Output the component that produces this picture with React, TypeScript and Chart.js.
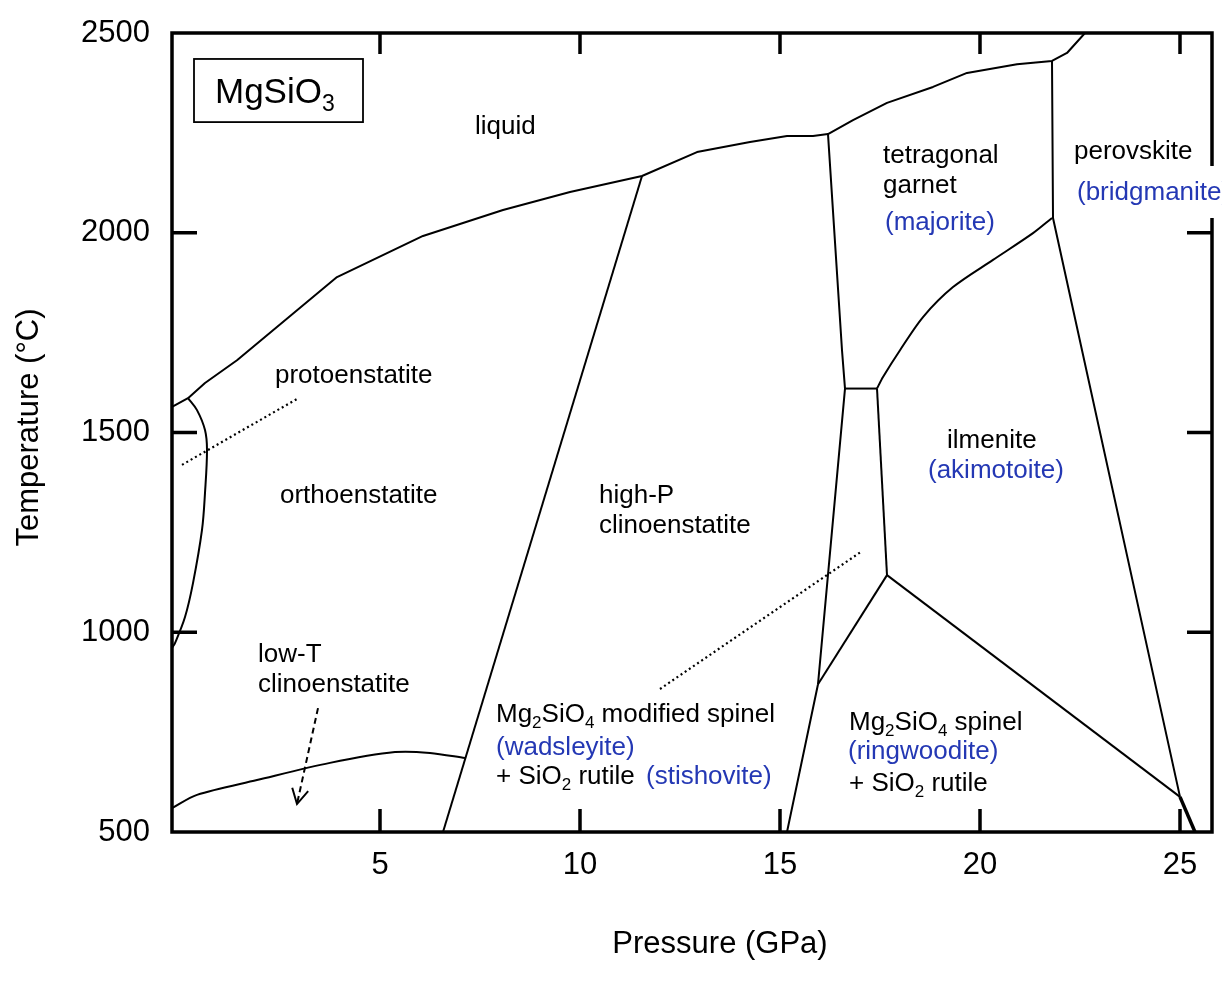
import React, { useEffect, useRef } from "react";
import { Chart, registerables } from "chart.js";

Chart.register(...registerables);

const FONT = "'Liberation Sans', Arial, Helvetica, sans-serif";
const INK = "#000000";
const MINERAL_BLUE = "#2438b4";

// Axis ranges and ticks
const P_MIN = -0.2;
const P_MAX = 25.8;
const T_MIN = 500;
const T_MAX = 2500;
const P_TICKS = [5, 10, 15, 20, 25];
const T_TICKS = [500, 1000, 1500, 2000, 2500];

// Phase boundaries: pressure (GPa) and temperature (°C) along each curve
const LIQUIDUS_P = [-0.2, 0.2, 0.625, 1.425, 3.925, 6.075, 8.075, 9.75, 11.55, 12.925, 14.25, 15.175, 15.825, 16.2, 16.825, 17.675, 18.825, 19.675, 20.925, 21.8, 22.175, 22.625];
const LIQUIDUS_T = [1564, 1586, 1624, 1681, 1889, 1992, 2057, 2102, 2142, 2202, 2227, 2242, 2242, 2247, 2282, 2325, 2365, 2400, 2422, 2430, 2450, 2500];

const PROTO_ORTHO_P = [0.2, 0.425, 0.625, 0.675, 0.625, 0.55, 0.325, 0.125, -0.125, -0.2];
const PROTO_ORTHO_T = [1586, 1556, 1506, 1456, 1349, 1256, 1123, 1038, 973, 961];

const LOWT_ORTHO_P = [-0.2, 0.425, 1.925, 3.75, 5.375, 6.25, 7.125];
const LOWT_ORTHO_T = [560, 593, 630, 673, 700, 698, 685];

const ORTHO_HIGHP_P = [6.575, 11.55];
const ORTHO_HIGHP_T = [500, 2142];

const HIGHP_WEST_P = [16.2, 16.55, 16.625, 15.95, 15.175];
const HIGHP_WEST_T = [2247, 1706, 1610, 870, 500];

const GARNET_STEP_P = [16.625, 17.425];
const GARNET_STEP_T = [1610, 1610];

const ILMENITE_WEST_P = [17.425, 17.675];
const ILMENITE_WEST_T = [1610, 1143];

const GARNET_ILMENITE_P = [17.425, 17.575, 18.0, 18.575, 19.325, 20.325, 21.325, 21.8];
const GARNET_ILMENITE_T = [1610, 1639, 1706, 1789, 1864, 1932, 1999, 2037];

const PEROVSKITE_P = [21.8, 21.825, 25.0];
const PEROVSKITE_T = [2430, 2037, 588];

const PEROVSKITE_FOOT_P = [25.0, 25.375];
const PEROVSKITE_FOOT_T = [588, 500];

const SPINEL_ILMENITE_P = [17.675, 25.0];
const SPINEL_ILMENITE_T = [1143, 588];

const WADS_RING_P = [15.95, 17.675];
const WADS_RING_T = [870, 1143];

// Leader lines
const PROTO_LEADER_P = [0.05, 2.925];
const PROTO_LEADER_T = [1419, 1584];

const SPINEL_LEADER_P = [12.0, 17.05];
const SPINEL_LEADER_T = [858, 1203];

const LOWT_ARROW_P = [3.45, 2.925];
const LOWT_ARROW_T = [810, 570];

// Field names (anchor = left end of the baseline, in P / T units); "_n" is a subscript
const FIELD_LABELS = [
  { text: "liquid", p: 7.375, t: 2247, kind: "phase" },
  { text: "tetragonal", p: 17.575, t: 2174, kind: "phase" },
  { text: "garnet", p: 17.575, t: 2099, kind: "phase" },
  { text: "(majorite)", p: 17.625, t: 2007, kind: "mineral" },
  { text: "perovskite", p: 22.35, t: 2184, kind: "phase" },
  { text: "(bridgmanite)", p: 22.425, t: 2082, kind: "mineral", knockout: true },
  { text: "protoenstatite", p: 2.375, t: 1624, kind: "phase" },
  { text: "orthoenstatite", p: 2.5, t: 1323, kind: "phase" },
  { text: "high-P", p: 10.475, t: 1323, kind: "phase" },
  { text: "clinoenstatite", p: 10.475, t: 1248, kind: "phase" },
  { text: "ilmenite", p: 19.175, t: 1461, kind: "phase" },
  { text: "(akimotoite)", p: 18.7, t: 1386, kind: "mineral" },
  { text: "low-T", p: 1.95, t: 925, kind: "phase" },
  { text: "clinoenstatite", p: 1.95, t: 850, kind: "phase" },
  { text: "Mg_2SiO_4 modified spinel", p: 7.9, t: 775, kind: "phase" },
  { text: "(wadsleyite)", p: 7.9, t: 693, kind: "mineral" },
  { text: "+ SiO_2 rutile", p: 7.9, t: 620, kind: "phase" },
  { text: "(stishovite)", p: 11.65, t: 620, kind: "mineral" },
  { text: "Mg_2SiO_4 spinel", p: 16.725, t: 755, kind: "phase" },
  { text: "(ringwoodite)", p: 16.7, t: 683, kind: "mineral" },
  { text: "+ SiO_2 rutile", p: 16.725, t: 603, kind: "phase" },
];

// Compound name box
const SYSTEM_NAME = "MgSiO_3";
const SYSTEM_BOX = { p0: 0.35, t0: 2435, p1: 4.575, t1: 2277, textP: 0.875, textT: 2325 };

const X_TITLE = "Pressure (GPa)";
const Y_TITLE = "Temperature (°C)";

const pts = (ps: number[], ts: number[]) => ps.map((p, i) => ({ x: p, y: ts[i] }));

function drawRich(ctx: CanvasRenderingContext2D, text: string, x: number, y: number, size: number) {
  let cx = x;
  const parts = text.split(/(_\d)/);
  for (const part of parts) {
    if (!part) continue;
    if (part.startsWith("_")) {
      const s = part.slice(1);
      ctx.font = `${Math.round(size * 0.65)}px ${FONT}`;
      ctx.fillText(s, cx, y + size * 0.22);
      cx += ctx.measureText(s).width;
    } else {
      ctx.font = `${size}px ${FONT}`;
      ctx.fillText(part, cx, y);
      cx += ctx.measureText(part).width;
    }
  }
  return cx - x;
}

const decorations = {
  id: "decorations",
  afterDatasetsDraw(chart: any) {
    const { ctx, chartArea: a, scales } = chart;
    const xs = scales.x;
    const ys = scales.y;
    ctx.save();

    // frame and inward ticks
    ctx.strokeStyle = INK;
    ctx.lineWidth = 3.5;
    ctx.lineCap = "butt";
    ctx.strokeRect(a.left, a.top, a.right - a.left, a.bottom - a.top);
    ctx.beginPath();
    P_TICKS.forEach((v) => {
      const px = xs.getPixelForValue(v);
      ctx.moveTo(px, a.bottom);
      ctx.lineTo(px, a.bottom - 23);
      ctx.moveTo(px, a.top);
      ctx.lineTo(px, a.top + 21);
    });
    T_TICKS.filter((v) => v > T_MIN && v < T_MAX).forEach((v) => {
      const py = ys.getPixelForValue(v);
      ctx.moveTo(a.left, py);
      ctx.lineTo(a.left + 25, py);
      ctx.moveTo(a.right, py);
      ctx.lineTo(a.right - 25, py);
    });
    ctx.stroke();

    // open arrow head on the dashed pointer
    chart.data.datasets.forEach((ds: any, i: number) => {
      if (!ds.arrowHead) return;
      const data = chart.getDatasetMeta(i).data;
      const p1 = data[data.length - 2];
      const p2 = data[data.length - 1];
      const ang = Math.atan2(p2.y - p1.y, p2.x - p1.x);
      const len = 17;
      const spread = 0.5;
      ctx.beginPath();
      ctx.lineWidth = 2;
      ctx.setLineDash([]);
      ctx.moveTo(p2.x - len * Math.cos(ang - spread), p2.y - len * Math.sin(ang - spread));
      ctx.lineTo(p2.x, p2.y);
      ctx.lineTo(p2.x - len * Math.cos(ang + spread), p2.y - len * Math.sin(ang + spread));
      ctx.stroke();
    });

    // field names
    ctx.textBaseline = "alphabetic";
    ctx.textAlign = "left";
    FIELD_LABELS.forEach((l: any) => {
      const x = xs.getPixelForValue(l.p);
      const y = ys.getPixelForValue(l.t);
      if (l.knockout) {
        ctx.fillStyle = "#ffffff";
        ctx.fillRect(x - 3, y - 34, chart.width - x + 3, 52);
      }
      ctx.fillStyle = l.kind === "mineral" ? MINERAL_BLUE : INK;
      drawRich(ctx, l.text, x, y, 26);
    });

    // compound name box
    const bx0 = xs.getPixelForValue(SYSTEM_BOX.p0);
    const by0 = ys.getPixelForValue(SYSTEM_BOX.t0);
    const bx1 = xs.getPixelForValue(SYSTEM_BOX.p1);
    const by1 = ys.getPixelForValue(SYSTEM_BOX.t1);
    ctx.lineWidth = 1.8;
    ctx.strokeStyle = INK;
    ctx.strokeRect(bx0, by0, bx1 - bx0, by1 - by0);
    ctx.fillStyle = INK;
    drawRich(ctx, SYSTEM_NAME, xs.getPixelForValue(SYSTEM_BOX.textP), ys.getPixelForValue(SYSTEM_BOX.textT), 35);

    // axis titles
    ctx.font = `31px ${FONT}`;
    ctx.textAlign = "center";
    ctx.textBaseline = "middle";
    ctx.fillText(X_TITLE, (a.left + a.right) / 2 + 28, a.bottom + 112);
    ctx.save();
    ctx.translate(29, (a.top + a.bottom) / 2 - 5);
    ctx.rotate(-Math.PI / 2);
    ctx.fillText(Y_TITLE, 0, 0);
    ctx.restore();

    ctx.restore();
  },
};

const boundary = (ps: number[], ts: number[], extra: any = {}) => ({
  data: pts(ps, ts),
  showLine: true,
  borderColor: INK,
  borderWidth: 2,
  pointRadius: 0,
  pointHoverRadius: 0,
  tension: 0,
  borderJoinStyle: "round",
  borderCapStyle: "butt",
  fill: false,
  ...extra,
});

export default function App() {
  const canvasRef = useRef<HTMLCanvasElement | null>(null);

  useEffect(() => {
    const canvas = canvasRef.current;
    if (!canvas) return;
    const chart = new Chart(canvas, {
      type: "scatter",
      data: {
        datasets: [
          boundary(LIQUIDUS_P, LIQUIDUS_T),
          boundary(PROTO_ORTHO_P, PROTO_ORTHO_T, { tension: 0.35 }),
          boundary(LOWT_ORTHO_P, LOWT_ORTHO_T, { tension: 0.3 }),
          boundary(ORTHO_HIGHP_P, ORTHO_HIGHP_T),
          boundary(HIGHP_WEST_P, HIGHP_WEST_T),
          boundary(GARNET_STEP_P, GARNET_STEP_T),
          boundary(ILMENITE_WEST_P, ILMENITE_WEST_T),
          boundary(GARNET_ILMENITE_P, GARNET_ILMENITE_T, { tension: 0.3 }),
          boundary(PEROVSKITE_P, PEROVSKITE_T),
          boundary(PEROVSKITE_FOOT_P, PEROVSKITE_FOOT_T, { borderWidth: 3.5 }),
          boundary(SPINEL_ILMENITE_P, SPINEL_ILMENITE_T),
          boundary(WADS_RING_P, WADS_RING_T),
          boundary(PROTO_LEADER_P, PROTO_LEADER_T, { borderDash: [2, 3], borderWidth: 2.2 }),
          boundary(SPINEL_LEADER_P, SPINEL_LEADER_T, { borderDash: [2, 3], borderWidth: 2.2 }),
          boundary(LOWT_ARROW_P, LOWT_ARROW_T, { borderDash: [6, 4], arrowHead: true }),
        ] as any,
      },
      options: {
        responsive: false,
        devicePixelRatio: 1,
        animation: false,
        events: [],
        layout: { padding: { top: 33, right: 10, left: 0, bottom: 0 } },
        plugins: {
          legend: { display: false },
          tooltip: { enabled: false },
        },
        scales: {
          x: {
            type: "linear",
            position: "bottom",
            min: P_MIN,
            max: P_MAX,
            afterBuildTicks: (axis: any) => {
              axis.ticks = P_TICKS.map((v) => ({ value: v }));
            },
            afterFit: (axis: any) => {
              axis.height = 164;
              axis.paddingLeft = 0;
              axis.paddingRight = 0;
              axis.paddingTop = 0;
              axis.paddingBottom = 0;
            },
            ticks: {
              color: INK,
              font: { family: FONT, size: 31 },
              padding: 15,
              maxRotation: 0,
              autoSkip: false,
              callback: (v: any) => String(v),
            },
            grid: { display: false, drawTicks: false },
            border: { display: false },
          },
          y: {
            type: "linear",
            position: "left",
            min: T_MIN,
            max: T_MAX,
            afterBuildTicks: (axis: any) => {
              axis.ticks = T_TICKS.map((v) => ({ value: v }));
            },
            afterFit: (axis: any) => {
              axis.width = 172;
              axis.paddingLeft = 0;
              axis.paddingRight = 0;
              axis.paddingTop = 0;
              axis.paddingBottom = 0;
            },
            ticks: {
              color: INK,
              font: { family: FONT, size: 31 },
              padding: 22,
              autoSkip: false,
              callback: (v: any) => String(v),
            },
            grid: { display: false, drawTicks: false },
            border: { display: false },
          },
        },
      },
      plugins: [decorations],
    });
    return () => chart.destroy();
  }, []);

  return (
    <div style={{ position: "fixed", left: 0, top: 0, width: 1222, height: 996, background: "#ffffff" }}>
      <canvas ref={canvasRef} width={1222} height={996} style={{ display: "block" }} />
    </div>
  );
}
